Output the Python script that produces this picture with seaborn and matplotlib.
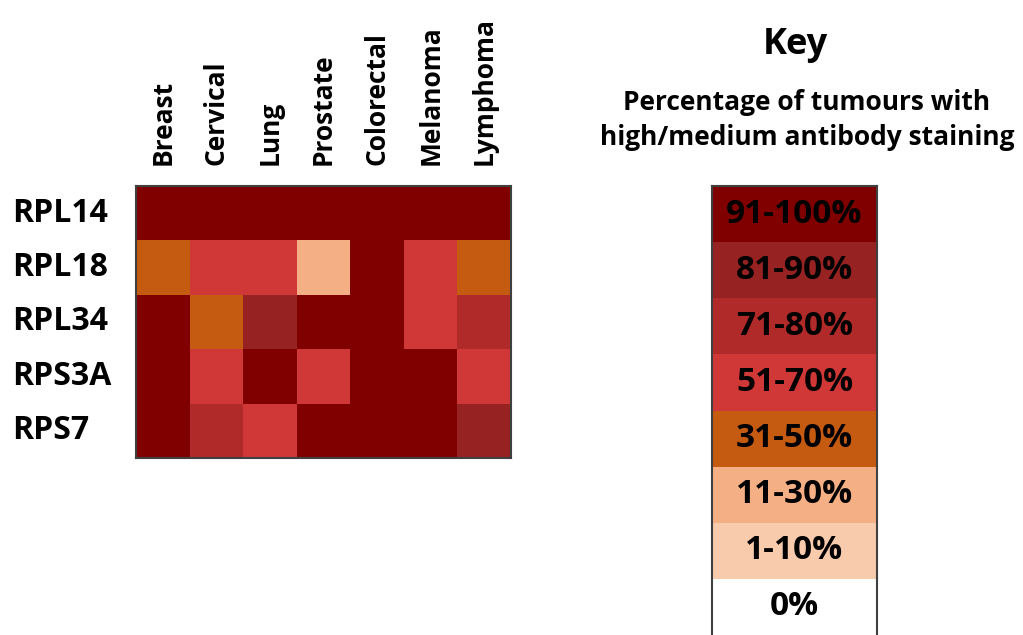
import numpy as np
import matplotlib.pyplot as plt
import seaborn as sns
from matplotlib.colors import ListedColormap

# Staining band per gene/tumour: 0 = 0%, 1 = 1-10%, ... 7 = 91-100%
tumours = ['Breast', 'Cervical', 'Lung', 'Prostate', 'Colorectal', 'Melanoma', 'Lymphoma']
genes = ['RPL14', 'RPL18', 'RPL34', 'RPS3A', 'RPS7']
rpl14 = [7, 7, 7, 7, 7, 7, 7]
rpl18 = [3, 4, 4, 2, 7, 4, 3]
rpl34 = [7, 3, 6, 7, 7, 4, 5]
rps3a = [7, 4, 7, 4, 7, 7, 4]
rps7 = [7, 5, 4, 7, 7, 7, 6]

bands = ['0%', '1-10%', '11-30%', '31-50%', '51-70%', '71-80%', '81-90%', '91-100%']
band_colors = ['#FFFFFF', '#F8CBAD', '#F4B084', '#C55A11', '#D03838', '#B02A2A', '#962222', '#800000']

sns.set_theme(style="white")
plt.rcParams['font.family'] = ['Open Sans', 'DejaVu Sans']
plt.rcParams['text.color'] = 'black'
plt.rcParams['xtick.color'] = 'black'
plt.rcParams['ytick.color'] = 'black'

cmap = ListedColormap(band_colors)

fig = plt.figure(figsize=(10.23, 6.35), dpi=100)

# main heatmap
data = np.array([rpl14, rpl18, rpl34, rps3a, rps7])
ax = fig.add_axes([136 / 1023, 1 - 458 / 635, 375 / 1023, 272 / 635])
sns.heatmap(data, cmap=cmap, vmin=-0.5, vmax=7.5, cbar=False, ax=ax,
            xticklabels=tumours, yticklabels=genes)
ax.xaxis.tick_top()
ax.tick_params(axis='x', length=0, pad=15, labelsize=19, rotation=90)
ax.tick_params(axis='y', length=0, pad=89, labelsize=23, rotation=0)
for lab in ax.get_yticklabels():
    lab.set_horizontalalignment('left')
    lab.set_fontweight('bold')
for lab in ax.get_xticklabels():
    lab.set_fontweight('bold')
for s in ax.spines.values():
    s.set_visible(True)
    s.set_color('#404040')
    s.set_linewidth(1.5)

# key
kax = fig.add_axes([712 / 1023, 0, 165 / 1023, 449 / 635])
key_levels = np.arange(7, -1, -1).reshape(-1, 1)
key_text = np.array(bands[::-1]).reshape(-1, 1)
sns.heatmap(key_levels, cmap=cmap, vmin=-0.5, vmax=7.5, cbar=False, ax=kax,
            annot=key_text, fmt='', xticklabels=False, yticklabels=False,
            annot_kws={'fontsize': 24, 'fontweight': 'bold', 'color': 'black'})
for s in kax.spines.values():
    s.set_visible(True)
    s.set_color('#404040')
    s.set_linewidth(1.5)
kax.spines['bottom'].set_visible(False)

fig.text(795 / 1023, 1 - 45 / 635, 'Key', ha='center', va='center',
         fontsize=26, fontweight='bold')
fig.text(807 / 1023, 1 - 120 / 635,
         'Percentage of tumours with\nhigh/medium antibody staining',
         ha='center', va='center', fontsize=19, fontweight='bold', linespacing=1.35)

fig.savefig('out.png', dpi=100)
